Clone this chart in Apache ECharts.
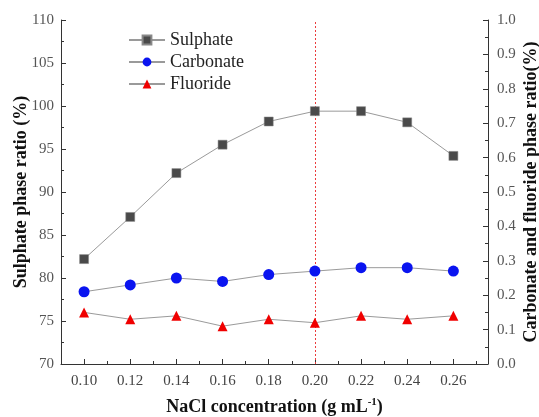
<!DOCTYPE html>
<html>
<head>
<meta charset="utf-8">
<script src="https://cdn.jsdelivr.net/npm/echarts@6/dist/echarts.min.js"></script>
<style>html,body{margin:0;padding:0;background:#fff;}#c{width:539px;height:417px;}</style>
</head>
<body>
<div id="c"></div>
<script>
const concentrations = [0.10, 0.12, 0.14, 0.16, 0.18, 0.20, 0.22, 0.24, 0.26];
const sulphate = [82.2, 87.1, 92.2, 95.5, 98.2, 99.4, 99.4, 98.1, 94.2];
const carbonate = [0.21, 0.23, 0.25, 0.24, 0.26, 0.27, 0.28, 0.28, 0.27];
const fluoride = [0.15, 0.13, 0.14, 0.11, 0.13, 0.12, 0.14, 0.13, 0.14];
const xMajorTicks = [0.10, 0.12, 0.14, 0.16, 0.18, 0.20, 0.22, 0.24, 0.26];
const xMinorTicks = [0.11, 0.13, 0.15, 0.17, 0.19, 0.21, 0.23, 0.25, 0.27];
const markX = [0.20];

const FONT = 'Liberation Serif';
const RED = 'rgb(235, 60, 60)';
const pair = (arr) => concentrations.map((x, i) => [x, arr[i]]);
const GRID = { left: 61, right: 51, top: 20, bottom: 53 };
const plotHeight = 417 - GRID.top - GRID.bottom;

const chart = echarts.init(document.getElementById('c'));
chart.setOption({
  animation: false,
  backgroundColor: '#fff',
  textStyle: { fontFamily: FONT },
  grid: Object.assign({ containLabel: false, outerBoundsMode: 'none' }, GRID),
  legend: {
    orient: 'vertical', left: 123, top: 26, itemWidth: 36, itemHeight: 11, itemGap: 4,
    textStyle: { fontFamily: FONT, fontSize: 18, color: '#222' },
    data: ['Sulphate', 'Carbonate', 'Fluoride']
  },
  xAxis: [{
    type: 'value', min: 0.09, max: 0.275,
    axisLine: { show: true, lineStyle: { color: '#333', width: 1 } },
    axisTick: { show: true, inside: true, length: 5, customValues: xMajorTicks, lineStyle: { color: '#333' } },
    axisLabel: { customValues: xMajorTicks, formatter: v => v.toFixed(2), fontFamily: FONT, fontSize: 15, color: '#444', margin: 10 },
    splitLine: { show: false },
    name: '{a|NaCl concentration (g mL}{s|-1}{a|)}',
    nameLocation: 'middle', nameGap: 33, nameMoveOverlap: false,
    nameTextStyle: {
      rich: {
        a: { fontFamily: FONT, fontSize: 18, fontWeight: 'bold', color: '#111' },
        s: { fontFamily: FONT, fontSize: 11, fontWeight: 'bold', color: '#111', padding: [0, 0, 9, 0] }
      }
    }
  }, {
    type: 'value', min: 0.09, max: 0.275, position: 'bottom',
    axisLine: { show: false },
    axisTick: { show: true, inside: true, length: 3, customValues: xMinorTicks, lineStyle: { color: '#333' } },
    axisLabel: { show: false },
    splitLine: { show: false }
  }, {
    type: 'value', min: 0.09, max: 0.275, position: 'bottom',
    axisLine: { show: false, lineStyle: { color: RED } },
    axisTick: { show: true, inside: true, length: plotHeight, customValues: markX, lineStyle: { color: RED, type: [2, 2], width: 1, opacity: 1 } },
    axisLabel: { show: false },
    splitLine: { show: false }
  }],
  yAxis: [{
    type: 'value', min: 70, max: 110, interval: 5,
    axisLine: { show: true, lineStyle: { color: '#333', width: 1 } },
    axisTick: { show: true, inside: true, length: 5, lineStyle: { color: '#333' } },
    minorTick: { show: true, splitNumber: 2, length: 3, lineStyle: { color: '#333' } },
    axisLabel: { fontFamily: FONT, fontSize: 15, color: '#555', margin: 7 },
    splitLine: { show: false },
    name: 'Sulphate phase ratio (%)', nameLocation: 'middle', nameGap: 31, nameRotate: 90, nameMoveOverlap: false,
    nameTextStyle: { fontFamily: FONT, fontSize: 18, fontWeight: 'bold', color: '#111' }
  }, {
    type: 'value', min: 0, max: 1, interval: 0.1, position: 'right',
    axisLine: { show: true, lineStyle: { color: '#333', width: 1 } },
    axisTick: { show: true, inside: true, length: 5, lineStyle: { color: '#333' } },
    minorTick: { show: true, splitNumber: 2, length: 3, lineStyle: { color: '#333' } },
    axisLabel: { formatter: v => v.toFixed(1), fontFamily: FONT, fontSize: 15, color: '#555', margin: 9 },
    splitLine: { show: false },
    name: 'Carbonate and fluoride phase ratio(%)', nameLocation: 'middle', nameGap: 34, nameRotate: 90, nameMoveOverlap: false,
    nameTextStyle: { fontFamily: FONT, fontSize: 18, fontWeight: 'bold', color: '#111' }
  }],
  series: [{
    name: 'Sulphate', type: 'line', xAxisIndex: 0, yAxisIndex: 0, data: pair(sulphate),
    symbol: 'rect', symbolSize: 9,
    itemStyle: { color: '#4a4a4a', borderColor: '#888', borderWidth: 0.5 },
    lineStyle: { color: '#9a9a9a', width: 1 }
  }, {
    name: 'Carbonate', type: 'line', xAxisIndex: 0, yAxisIndex: 1, data: pair(carbonate),
    symbol: 'circle', symbolSize: 11,
    itemStyle: { color: '#0a14f0' },
    lineStyle: { color: '#9a9a9a', width: 1 }
  }, {
    name: 'Fluoride', type: 'line', xAxisIndex: 0, yAxisIndex: 1, data: pair(fluoride),
    symbol: 'triangle', symbolSize: 10,
    itemStyle: { color: '#f00000' },
    lineStyle: { color: '#9a9a9a', width: 1 }
  }]
});
</script>
</body>
</html>
